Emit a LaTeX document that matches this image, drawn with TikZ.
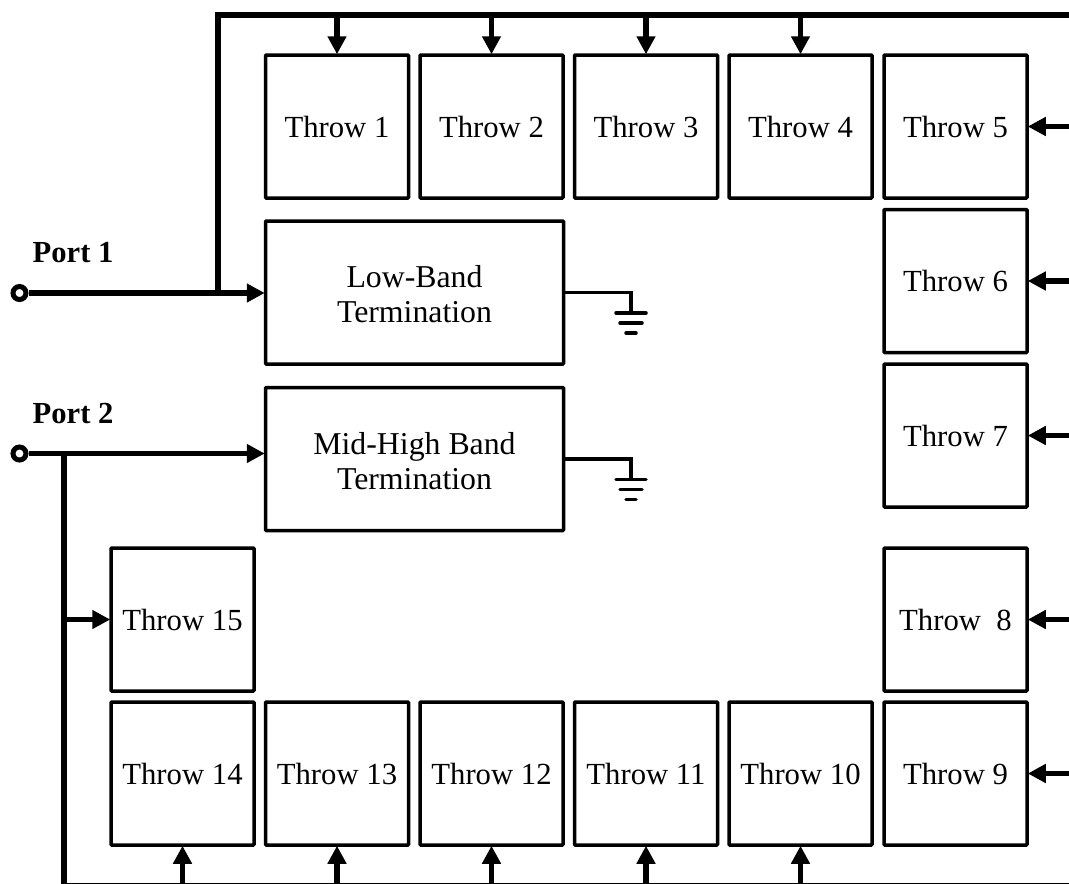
\documentclass[tikz,border=0pt]{standalone}
\usepackage{fontspec}
\setmainfont{Liberation Serif}
\usepackage{tikz}
\usetikzlibrary{arrows.meta,positioning,calc}
\tikzset{
  throwbox/.style={draw,line width=3.5pt,rounded corners=0.8pt,minimum width=143pt,minimum height=143pt,inner sep=0pt},
  termbox/.style={throwbox,minimum width=298pt,align=center,font=\fontsize{31.8}{35}\selectfont},
  portdot/.style={draw,circle,line width=5pt,minimum size=13pt,inner sep=0pt},
  portlabel/.style={anchor=base west,inner sep=0pt,font=\fontsize{30.6}{34}\selectfont\bfseries},
  busline/.style={line width=5.5pt},
  busarrow/.style={line width=5.5pt,-{Triangle[length=18pt,width=18pt]},shorten >=-1pt},
  gndline/.style={line width=3.5pt,line cap=round}
}
\newcommand{\gndsym}[1]{%
  \draw[gndline] ($(#1)+(-15,0)$) -- ($(#1)+(15,0)$);
  \draw[gndline] ($(#1)+(-11,10)$) -- ($(#1)+(11,10)$);
  \draw[gndline] ($(#1)+(-5,20)$) -- ($(#1)+(5,20)$);
}
\newcommand{\termline}[1]{\raisebox{-2pt}[\height][\depth]{#1}}
\begin{document}
\begin{tikzpicture}[x=1pt,y=-1pt,font=\fontsize{30.7}{34.5}\selectfont]
\clip (0,0) rectangle (1069,884);
\node[throwbox] (throw1) at (337,126.5) {Throw 1};
\node[throwbox] (throw2) at (491.5,126.5) {Throw 2};
\node[throwbox] (throw3) at (646,126.5) {Throw 3};
\node[throwbox] (throw4) at (800.5,126.5) {Throw 4};
\node[throwbox] (throw5) at (955.5,126.5) {Throw 5};
\node[throwbox] (throw6) at (955.5,281) {Throw 6};
\node[throwbox] (throw7) at (955.5,435.5) {Throw 7};
\node[throwbox] (throw8) at (955.5,619.5) {Throw\ \ 8};
\node[throwbox] (throw9) at (955.5,773.5) {Throw 9};
\node[throwbox] (throw10) at (800.5,773.5) {Throw 10};
\node[throwbox] (throw11) at (646,773.5) {Throw 11};
\node[throwbox] (throw12) at (491.5,773.5) {Throw 12};
\node[throwbox] (throw13) at (337,773.5) {Throw 13};
\node[throwbox] (throw14) at (182.5,773.5) {Throw 14};
\node[throwbox] (throw15) at (182.5,619.5) {Throw 15};
\node[termbox] (lowband) at (414.5,292.5) {\termline{Low-Band}\\\termline{Termination}};
\node[termbox] (midband) at (414.5,459) {\termline{Mid-High Band}\\\termline{Termination}};
\node[portdot] (port1) at (19.5,293) {};
\node[portdot] (port2) at (19.5,453.5) {};
\node[portlabel] (port1label) at (32.5,262) {Port 1};
\node[portlabel] (port2label) at (32.5,423) {Port 2};
% buses
\coordinate (lowjoin) at (218,293);
\coordinate (midjoin) at (64,453.5);
\coordinate (topend) at (1069,15);
\coordinate (botend) at (1069,886);
\draw[busarrow] (port1) -- (lowband.west |- port1);
\draw[busarrow] (port2) -- (midband.west |- port2);
\draw[busline] (lowjoin) |- (topend);
\draw[busline] (midjoin) |- (botend);
% throw feeds
\draw[busarrow] (throw1 |- topend) -- (throw1);
\draw[busarrow] (throw2 |- topend) -- (throw2);
\draw[busarrow] (throw3 |- topend) -- (throw3);
\draw[busarrow] (throw4 |- topend) -- (throw4);
\draw[busarrow] (topend |- throw5) -- (throw5);
\draw[busarrow] (topend |- throw6) -- (throw6);
\draw[busarrow] (topend |- throw7) -- (throw7);
\draw[busarrow] (topend |- throw8) -- (throw8);
\draw[busarrow] (topend |- throw9) -- (throw9);
\draw[busarrow] (throw10 |- botend) -- (throw10);
\draw[busarrow] (throw11 |- botend) -- (throw11);
\draw[busarrow] (throw12 |- botend) -- (throw12);
\draw[busarrow] (throw13 |- botend) -- (throw13);
\draw[busarrow] (throw14 |- botend) -- (throw14);
\draw[busarrow] (midjoin |- throw15) -- (throw15);
% terminations
\coordinate (lowgnd) at (631,313);
\coordinate (midgnd) at (631,479.5);
\draw[line width=3.5pt] (lowband.east) -| (lowgnd);
\draw[line width=3.5pt] (midband.east) -| (midgnd);
\gndsym{lowgnd}
\gndsym{midgnd}
\end{tikzpicture}
\end{document}
